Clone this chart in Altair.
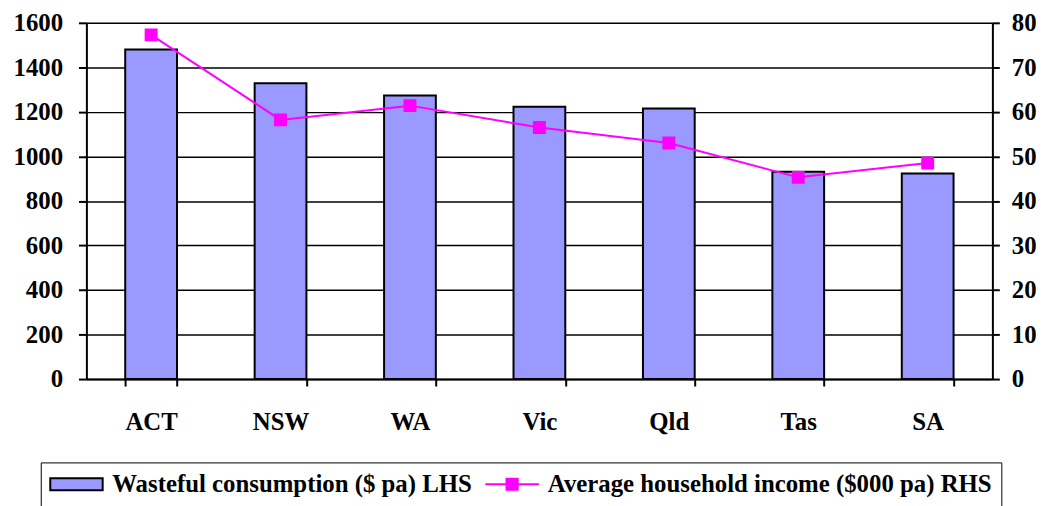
import altair as alt
import pandas as pd

states = ["ACT", "NSW", "WA", "Vic", "Qld", "Tas", "SA"]
waste = [1480, 1329, 1274, 1223, 1215, 931, 923]
income = [77.3, 58.2, 61.4, 56.5, 53.0, 45.3, 48.5]

bar_name = "Wasteful consumption ($ pa) LHS"
line_name = "Average household income ($000 pa) RHS"
series_names = [bar_name, line_name]
fill_colors = ["#9999FF", "#FF00FF"]
stroke_colors = ["black", "#FF00FF"]

df_bar = pd.DataFrame({"state": states, "value": waste, "series": bar_name})
df_line = pd.DataFrame({"state": states, "value": income, "series": line_name})

FONT = "Times New Roman, Liberation Serif, DejaVu Serif, serif"
FS = 25

is_bar = "datum.value == '" + bar_name + "'"
# symbol radius 12px (size 576): drawn shapes extend beyond the unit square
bar_path = "M-2.2,-0.5H2.2V0.5H-2.2Z"
line_path = "M-2.25,0H2.25M-0.47,-0.47H0.47V0.47H-0.47Z"

legend = alt.Legend(
    title=None,
    orient="none",
    legendX=-46,
    legendY=443,
    direction="horizontal",
    strokeColor="black",
    padding=9,
    labelFont=FONT,
    labelFontSize=FS,
    labelFontWeight="bold",
    labelColor="black",
    labelLimit=1000,
    labelOffset=23,
    columnPadding=9,
    symbolSize=576,
    symbolOffset=14,
    symbolOpacity=1,
    symbolStrokeWidth=2,
    symbolType=alt.ExprRef(expr=is_bar + " ? '" + bar_path + "' : '" + line_path + "'"),
)

xenc = alt.X(
    "state:N",
    sort=states,
    title=None,
    scale=alt.Scale(paddingInner=0.6, paddingOuter=0.3),
    axis=alt.Axis(
        labelAngle=0, tickBand="extent", tickSize=7, labelPadding=24,
        domainColor="black", domainWidth=2, tickColor="black", tickWidth=2,
        labelFont=FONT, labelFontSize=FS, labelFontWeight="bold", labelColor="black",
    ),
)

fill_scale = alt.Scale(domain=series_names, range=fill_colors)
stroke_scale = alt.Scale(domain=series_names, range=stroke_colors)

bars = alt.Chart(df_bar).mark_bar(strokeWidth=2, opacity=1).encode(
    x=xenc,
    y=alt.Y(
        "value:Q",
        title=None,
        scale=alt.Scale(domain=[0, 1600], nice=False, zero=True),
        axis=alt.Axis(
            orient="left", values=list(range(0, 1601, 200)), grid=True, format="d",
            gridColor="black", gridWidth=1.5, gridOpacity=1,
            tickSize=8, tickColor="black", tickWidth=2, domainColor="black", domainWidth=2,
            labelPadding=16, labelFont=FONT, labelFontSize=FS, labelFontWeight="bold", labelColor="black",
        ),
    ),
    fill=alt.Fill("series:N", scale=fill_scale, legend=legend),
    stroke=alt.Stroke("series:N", scale=stroke_scale, legend=legend),
)

line = alt.Chart(df_line).mark_line(
    strokeWidth=2,
    point=alt.OverlayMarkDef(shape="square", size=121, filled=True, fill="#FF00FF", opacity=1),
).encode(
    x=alt.X("state:N", sort=states),
    y=alt.Y(
        "value:Q",
        title=None,
        scale=alt.Scale(domain=[0, 80], nice=False, zero=True),
        axis=alt.Axis(
            orient="right", values=list(range(0, 81, 10)), grid=False, format="d",
            tickSize=7, tickColor="black", tickWidth=2, domainColor="black", domainWidth=2,
            labelPadding=12, labelFont=FONT, labelFontSize=FS, labelFontWeight="bold", labelColor="black",
        ),
    ),
    stroke=alt.Stroke("series:N", scale=stroke_scale, legend=legend),
)

chart = (
    alt.layer(bars, line)
    .resolve_scale(y="independent")
    .properties(
        width=913,
        height=359,
        autosize=alt.AutoSizeParams(type="none"),
        padding={"left": 79, "top": 13, "right": 51, "bottom": 128},
    )
    .configure_view(stroke="#808080", strokeWidth=1.5)
    .configure(background="white")
)

chart.save("out.html", embed_options={"renderer": "svg", "actions": False})
